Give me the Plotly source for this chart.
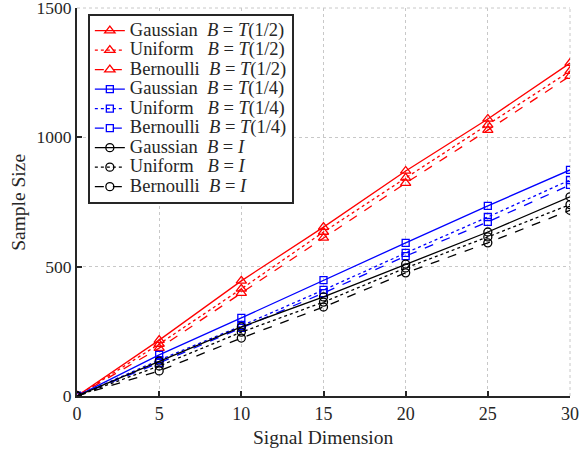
import plotly.graph_objects as go

x = [0, 5, 10, 15, 20, 25, 30]

gauss_half = [0, 216, 445, 653, 870, 1071, 1287]
unif_half = [0, 201, 414, 634, 843, 1048, 1256]
bern_half = [0, 185, 398, 611, 823, 1028, 1237]
gauss_quarter = [0, 159, 302, 448, 592, 735, 874]
unif_quarter = [0, 139, 271, 410, 553, 692, 835]
bern_quarter = [0, 128, 263, 398, 541, 673, 816]
gauss_I = [0, 135, 267, 383, 510, 634, 770]
unif_I = [0, 116, 247, 363, 495, 615, 740]
bern_I = [0, 97, 224, 344, 476, 592, 718]

labels = [
    ("Gaussian  ", "<i>B</i> = <i>T</i>(1/2)"),
    ("Uniform   ", "<i>B</i> = <i>T</i>(1/2)"),
    ("Bernoulli  ", "<i>B</i> = <i>T</i>(1/2)"),
    ("Gaussian  ", "<i>B</i> = <i>T</i>(1/4)"),
    ("Uniform   ", "<i>B</i> = <i>T</i>(1/4)"),
    ("Bernoulli  ", "<i>B</i> = <i>T</i>(1/4)"),
    ("Gaussian  ", "<i>B</i> = <i>I</i>"),
    ("Uniform   ", "<i>B</i> = <i>I</i>"),
    ("Bernoulli  ", "<i>B</i> = <i>I</i>"),
]
series = [gauss_half, unif_half, bern_half, gauss_quarter, unif_quarter,
          bern_quarter, gauss_I, unif_I, bern_I]
colors = ["#ff0000"] * 3 + ["#0000ff"] * 3 + ["#000000"] * 3
symbols = ["triangle-up-open"] * 3 + ["square-open"] * 3 + ["circle-open"] * 3
msizes = [9] * 3 + [7] * 3 + [8] * 3
dashes = ["solid", "dot", "dash"] * 3

font_family = "Liberation Serif"
grid_c = "#c8c8c8"
axis_c = "#262626"

fig = go.Figure()
for (a, b), s, c, sym, ms, d in zip(labels, series, colors, symbols, msizes, dashes):
    name = '<span style="font-size:18.5px">' + a + b + "</span>"
    fig.add_trace(go.Scatter(
        x=x, y=s, mode="lines+markers", name=name,
        line=dict(color=c, width=1.3, dash=d),
        marker=dict(symbol=sym, size=ms, color=c, line=dict(width=1.3, color=c)),
    ))

fig.update_layout(
    width=581, height=457,
    margin=dict(l=77, r=11, t=8, b=61, autoexpand=False),
    paper_bgcolor="white", plot_bgcolor="white",
    font=dict(family=font_family, size=18, color=axis_c),
    showlegend=True,
    legend=dict(
        x=0.022, y=0.985, xanchor="left", yanchor="top",
        bgcolor="white", bordercolor=axis_c, borderwidth=2,
        font=dict(family=font_family, size=12.7, color=axis_c),
        tracegroupgap=0, itemwidth=30,
    ),
    xaxis=dict(
        range=[0, 30], tickvals=[0, 5, 10, 15, 20, 25, 30],
        showgrid=True, gridcolor=grid_c, griddash="dot", gridwidth=1,
        showline=True, linecolor=axis_c, linewidth=2,
        ticks="inside", ticklen=5, tickcolor=axis_c, tickwidth=1.5,
        zeroline=False, tickfont=dict(size=18), automargin=False,
        ticklabeloverflow="allow",
    ),
    yaxis=dict(
        range=[0, 1500], tickvals=[0, 500, 1000, 1500],
        showgrid=True, gridcolor=grid_c, griddash="dot", gridwidth=1,
        showline=True, linecolor=axis_c, linewidth=2,
        ticks="inside", ticklen=5, tickcolor=axis_c, tickwidth=1.5,
        zeroline=False, tickfont=dict(size=17.5), automargin=False,
        ticklabeloverflow="allow",
    ),
    shapes=[
        dict(type="line", xref="paper", yref="paper", x0=0, x1=1, y0=1, y1=1,
             line=dict(color=grid_c, width=1, dash="dot"), layer="below"),
        dict(type="line", xref="paper", yref="paper", x0=1, x1=1, y0=0, y1=1,
             line=dict(color=grid_c, width=1, dash="dot"), layer="below"),
    ],
    annotations=[
        dict(text="Signal Dimension", xref="paper", yref="paper", x=0.5, y=-0.108,
             xanchor="center", yanchor="middle", showarrow=False,
             font=dict(size=19.5, family=font_family, color=axis_c)),
        dict(text="Sample Size", xref="paper", yref="paper", x=-0.12, y=0.5,
             xanchor="center", yanchor="middle", showarrow=False, textangle=-90,
             font=dict(size=19.5, family=font_family, color=axis_c)),
    ],
)

fig.write_html("out.html", config={"displayModeBar": False},
               post_script="document.body.style.margin='0';")
